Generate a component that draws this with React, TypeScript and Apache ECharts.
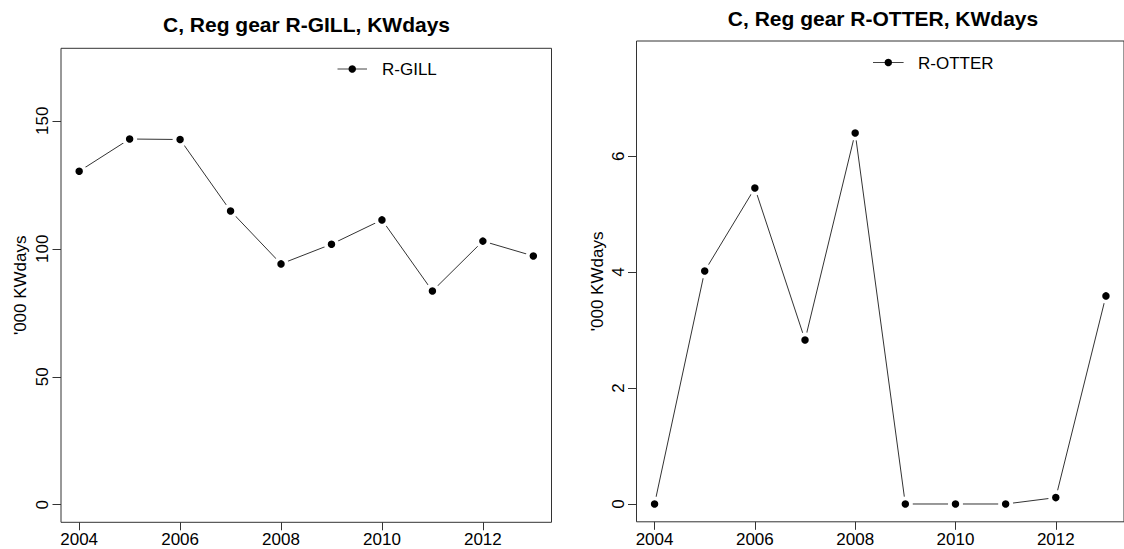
import React, { useEffect, useRef } from "react";
import * as echarts from "echarts";

const years = [2004, 2005, 2006, 2007, 2008, 2009, 2010, 2011, 2012, 2013];
const gillValues = [130.3, 142.9, 142.7, 114.8, 94.1, 101.8, 111.3, 83.5, 103.0, 97.2];
const otterValues = [0, 4.02, 5.45, 2.83, 6.4, 0, 0, 0, 0.11, 3.59];
const xTicks = [2004, 2006, 2008, 2010, 2012];
const gillYTicks = [0, 50, 100, 150];
const otterYTicks = [0, 2, 4, 6];
const titles = ["C, Reg gear R-GILL, KWdays", "C, Reg gear R-OTTER, KWdays"];
const legendNames = ["R-GILL", "R-OTTER"];
const yName = "'000 KWdays";

const FONT = "'Liberation Sans', Arial, sans-serif";
const AX = "#333";

function xRange() {
  const lo = Math.min(...years);
  const hi = Math.max(...years);
  const e = (hi - lo) * 0.04;
  return [lo - e, hi + e];
}
function yRange(vals: number[]) {
  const top = Math.max(...vals) * 1.2;
  const e = top * 0.04;
  return [-e, top + e];
}

export default function App() {
  const ref = useRef<HTMLDivElement>(null);
  useEffect(() => {
    if (!ref.current) return;
    const chart = echarts.init(ref.current, null, { renderer: "svg" });
    const [xmin, xmax] = xRange();
    const [gl, gh] = yRange(gillValues);
    const [ol, oh] = yRange(otterValues);

    const grids = [
      { left: 61, top: 48.3, width: 490.5, height: 474 },
      { left: 636.5, top: 41, width: 496.7, height: 480.8 },
    ];

    const mkX = (gi: number) => ({
      type: "value",
      gridIndex: gi,
      position: "bottom",
      min: xmin,
      max: xmax,
      axisLine: { show: false, onZero: false },
      splitLine: { show: false },
      axisTick: { show: true, inside: false, length: 8, customValues: xTicks, lineStyle: { color: AX, width: 1 } },
      axisLabel: {
        customValues: xTicks,
        fontSize: 17,
        color: "#000",
        fontFamily: FONT,
        margin: 9,
        formatter: (v: number) => String(v),
      },
    });
    const mkY = (gi: number, min: number, max: number, ticks: number[], gap: number) => ({
      type: "value",
      gridIndex: gi,
      position: "left",
      min,
      max,
      name: yName,
      nameLocation: "middle",
      nameGap: gap,
      nameRotate: 90,
      nameTextStyle: { fontSize: 17, color: "#000", fontFamily: FONT },
      axisLine: { show: false, onZero: false },
      splitLine: { show: false },
      axisTick: { show: true, inside: false, length: 8.5, customValues: ticks, lineStyle: { color: AX, width: 1 } },
      axisLabel: {
        customValues: ticks,
        rotate: 90,
        fontSize: 17,
        color: "#000",
        fontFamily: FONT,
        margin: 10,
        formatter: (v: number) => String(v),
      },
    });

    const mkSeries = (gi: number, vals: number[]) => ({
      type: "line",
      xAxisIndex: gi,
      yAxisIndex: gi,
      data: years.map((y, i) => [y, vals[i]]),
      symbol: "circle",
      symbolSize: 11.25,
      showSymbol: true,
      itemStyle: { color: "#000", borderColor: "#fff", borderWidth: 3.75 },
      lineStyle: { color: "#333", width: 1 },
      emphasis: { disabled: true },
      silent: true,
      clip: false,
    });

    const legendItem = (x0: number, x1: number, y: number, tx: number, label: string) => [
      { type: "line", shape: { x1: x0, y1: y, x2: x1, y2: y }, style: { stroke: "#444", lineWidth: 1 } },
      { type: "circle", shape: { cx: (x0 + x1) / 2, cy: y, r: 3.75 }, style: { fill: "#000" } },
      {
        type: "text",
        x: tx,
        y: y + 0.5,
        style: { text: label, fontSize: 17, fontFamily: FONT, fill: "#000", align: "left", verticalAlign: "middle" },
      },
    ];

    chart.setOption({
      animation: false,
      backgroundColor: "#fff",
      grid: grids.map((g) => ({ ...g, show: true, borderColor: AX, borderWidth: 1, containLabel: false })),
      xAxis: [mkX(0), mkX(1)],
      yAxis: [mkY(0, gl, gh, gillYTicks, 32), mkY(1, ol, oh, otterYTicks, 31)],
      series: [mkSeries(0, gillValues), mkSeries(1, otterValues)],
      graphic: [
        {
          type: "text",
          x: 306.5,
          y: 24.5,
          style: { text: titles[0], fontSize: 21, fontWeight: "bold", fontFamily: FONT, fill: "#000", align: "center", verticalAlign: "middle" },
        },
        {
          type: "text",
          x: 883,
          y: 18,
          style: { text: titles[1], fontSize: 21, fontWeight: "bold", fontFamily: FONT, fill: "#000", align: "center", verticalAlign: "middle" },
        },
        ...legendItem(337.5, 367, 69, 382, legendNames[0]),
        ...legendItem(873, 903.6, 62.5, 918, legendNames[1]),
      ],
    });
    return () => chart.dispose();
  }, []);
  return <div ref={ref} style={{ position: "absolute", left: 0, top: 0, width: 1124, height: 549 }} />;
}
